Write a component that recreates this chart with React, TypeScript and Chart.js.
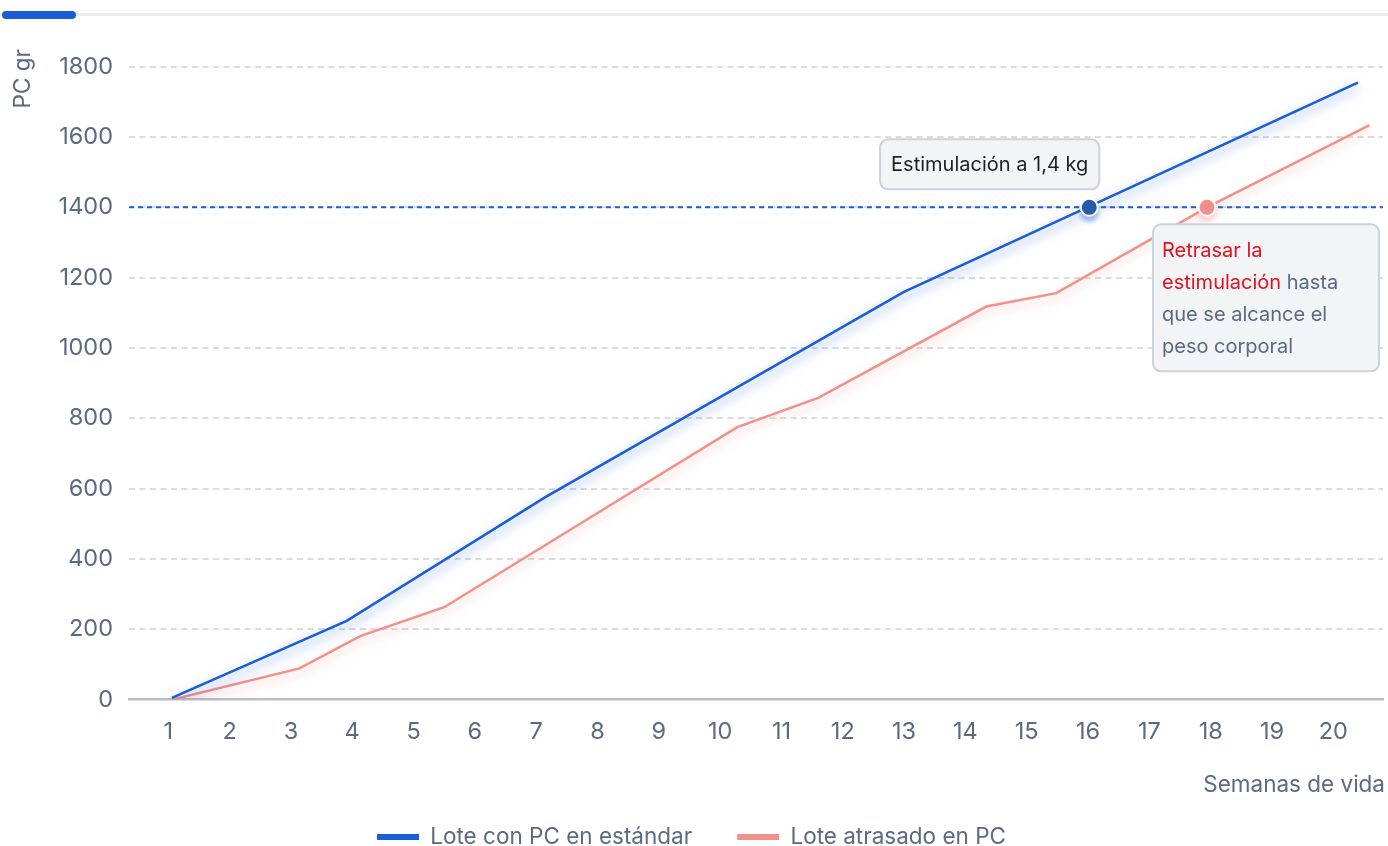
import React, { useEffect, useRef } from "react";
import { Chart, registerables } from "chart.js";

Chart.register(...registerables);

// ---------- data ----------
const WEEK_TICKS = [1, 2, 3, 4, 5, 6, 7, 8, 9, 10, 11, 12, 13, 14, 15, 16, 17, 18, 19, 20];
const WEIGHT_TICKS = [0, 200, 400, 600, 800, 1000, 1200, 1400, 1600, 1800];
const X_RANGE = [0.36, 20.81];
const Y_RANGE = [0, 1800];

const STD_WEEKS = [1.06, 3.91, 7.15, 12.99, 20.4];
const STD_WEIGHT = [5, 224, 576, 1159, 1755];

const LATE_WEEKS = [1.06, 3.14, 4.13, 5.5, 10.28, 11.6, 14.34, 15.48, 17.94, 20.59];
const LATE_WEIGHT = [0, 89, 181, 263, 775, 858, 1118, 1156, 1400, 1634];

const TARGET_WEIGHT = 1400;
const STD_HIT_WEEK = 16.02;
const LATE_HIT_WEEK = 17.94;

const SERIES_NAMES = ["Lote con PC en estándar", "Lote atrasado en PC"];
const Y_TITLE = "PC gr";
const X_TITLE = "Semanas de vida";
const NOTE_STD = "Estimulación a 1,4 kg";
const NOTE_LATE: { t: string; red: boolean }[][] = [
  [{ t: "Retrasar la", red: true }],
  [
    { t: "estimulación", red: true },
    { t: " hasta", red: false },
  ],
  [{ t: "que se alcance el", red: false }],
  [{ t: "peso corporal", red: false }],
];

// ---------- style ----------
const FONT = "Inter";
const BLUE = "#1b5dd6";
const RED = "#f1918b";
const SLATE = "#5b6a80";
const NOTE_RED = "#e0121f";
const LABEL_SIZE = 22.5;
const TICK_SIZE = 23.5;
const NOTE_SIZE = 20;

function roundRect(ctx: CanvasRenderingContext2D, x: number, y: number, w: number, h: number, r: number) {
  ctx.beginPath();
  ctx.moveTo(x + r, y);
  ctx.lineTo(x + w - r, y);
  ctx.arcTo(x + w, y, x + w, y + r, r);
  ctx.lineTo(x + w, y + h - r);
  ctx.arcTo(x + w, y + h, x + w - r, y + h, r);
  ctx.lineTo(x + r, y + h);
  ctx.arcTo(x, y + h, x, y + h - r, r);
  ctx.lineTo(x, y + r);
  ctx.arcTo(x, y, x + r, y, r);
  ctx.closePath();
}

const glowPlugin = {
  id: "glow",
  beforeDatasetDraw(chart: any, args: any) {
    const ds = chart.data.datasets[args.index];
    if (!ds.glow) return;
    const ctx = chart.ctx;
    ctx.save();
    ctx.shadowColor = ds.glow;
    ctx.shadowBlur = ds.glowBlur || 12;
    ctx.shadowOffsetY = 5;
  },
  afterDatasetDraw(chart: any, args: any) {
    const ds = chart.data.datasets[args.index];
    if (!ds.glow) return;
    chart.ctx.restore();
  },
};

const notesPlugin = {
  id: "notes",
  afterDraw(chart: any) {
    const ctx: CanvasRenderingContext2D = chart.ctx;
    const xs = chart.scales.x;
    const ys = chart.scales.y;
    const area = chart.chartArea;
    ctx.save();

    // axis titles
    ctx.fillStyle = SLATE;
    ctx.font = `${LABEL_SIZE}px ${FONT}`;
    ctx.textBaseline = "middle";
    ctx.textAlign = "center";
    ctx.save();
    ctx.translate(area.left - 106, area.top + 12);
    ctx.rotate(-Math.PI / 2);
    ctx.fillText(Y_TITLE, 0, 0);
    ctx.restore();

    ctx.textAlign = "right";
    ctx.fillText(X_TITLE, area.right + 2, area.bottom + 86);

    // note for standard batch
    const bx = xs.getPixelForValue(STD_HIT_WEEK);
    const by = ys.getPixelForValue(TARGET_WEIGHT);
    ctx.font = `${NOTE_SIZE}px ${FONT}`;
    const tw = ctx.measureText(NOTE_STD).width;
    const w1 = tw + 22;
    const h1 = 50;
    const x1 = bx + 10 - w1;
    const y1 = by - 18 - h1;
    roundRect(ctx, x1, y1, w1, h1, 8);
    ctx.fillStyle = "#f3f4f5";
    ctx.fill();
    ctx.lineWidth = 2;
    ctx.strokeStyle = "#c9d2dd";
    ctx.stroke();
    ctx.fillStyle = "#1e1f22";
    ctx.textAlign = "left";
    ctx.textBaseline = "middle";
    ctx.fillText(NOTE_STD, x1 + 11, y1 + h1 / 2 + 1);

    // note for late batch
    const rx = xs.getPixelForValue(LATE_HIT_WEEK);
    const ry = ys.getPixelForValue(TARGET_WEIGHT);
    const x2 = rx - 54;
    const y2 = ry + 17;
    const w2 = 226;
    const h2 = 147;
    roundRect(ctx, x2, y2, w2, h2, 8);
    ctx.fillStyle = "#f3f4f5";
    ctx.fill();
    ctx.lineWidth = 2;
    ctx.strokeStyle = "#c9d2dd";
    ctx.stroke();
    NOTE_LATE.forEach((line, i) => {
      let cx = x2 + 9;
      const cy = y2 + 27 + i * 32;
      line.forEach((seg) => {
        ctx.fillStyle = seg.red ? NOTE_RED : SLATE;
        ctx.fillText(seg.t, cx, cy);
        cx += ctx.measureText(seg.t).width;
      });
    });
    ctx.restore();
  },
};

export default function App() {
  const canvasRef = useRef<HTMLCanvasElement | null>(null);

  useEffect(() => {
    document.body.style.margin = "0";
    const canvas = canvasRef.current;
    if (!canvas) return;

    const chart = new Chart(canvas, {
      type: "line",
      data: {
        datasets: [
          {
            label: "std-dot",
            data: [{ x: STD_HIT_WEEK, y: TARGET_WEIGHT }],
            showLine: false,
            pointRadius: 8.5,
            pointBorderWidth: 2,
            pointBackgroundColor: "#2d5ba8",
            pointBorderColor: "#ffffff",
            hideLegend: true,
            glow: "rgba(27, 93, 214, 0.35)",
            glowBlur: 4,
          } as any,
          {
            label: "late-dot",
            data: [{ x: LATE_HIT_WEEK, y: TARGET_WEIGHT }],
            showLine: false,
            pointRadius: 8.5,
            pointBorderWidth: 2,
            pointBackgroundColor: "#f0908a",
            pointBorderColor: "#ffffff",
            hideLegend: true,
            glow: "rgba(241, 145, 139, 0.3)",
            glowBlur: 4,
          } as any,
          {
            label: SERIES_NAMES[0],
            data: STD_WEEKS.map((x, i) => ({ x, y: STD_WEIGHT[i] })),
            borderColor: BLUE,
            backgroundColor: BLUE,
            borderWidth: 2.5,
            pointRadius: 0,
            tension: 0,
            glow: "rgba(27, 93, 214, 0.6)",
            glowBlur: 12,
          } as any,
          {
            label: SERIES_NAMES[1],
            data: LATE_WEEKS.map((x, i) => ({ x, y: LATE_WEIGHT[i] })),
            borderColor: RED,
            backgroundColor: RED,
            borderWidth: 2.5,
            pointRadius: 0,
            tension: 0,
            glow: "rgba(241, 145, 139, 0.5)",
            glowBlur: 10,
          } as any,
          {
            label: "target",
            data: [
              { x: X_RANGE[0], y: TARGET_WEIGHT },
              { x: X_RANGE[1], y: TARGET_WEIGHT },
            ],
            borderColor: BLUE,
            borderWidth: 2,
            borderDash: [5, 4],
            pointRadius: 0,
            hideLegend: true,
          } as any,
        ],
      },
      options: {
        animation: false,
        responsive: false,
        events: [],
        layout: { autoPadding: false, padding: { top: 66.7, left: 0, right: 5, bottom: 11.75 } },
        font: { family: FONT },
        scales: {
          x: {
            type: "linear",
            min: X_RANGE[0],
            max: X_RANGE[1],
            afterBuildTicks: (s: any) => {
              s.ticks = WEEK_TICKS.map((v) => ({ value: v }));
            },
            afterFit: (s: any) => {
              s.height = 81.05;
              s.paddingLeft = 0;
              s.paddingRight = 0;
            },
            grid: { display: false, drawTicks: false },
            border: { display: true, color: "#bdbdc1", width: 2.5 },
            ticks: {
              color: SLATE,
              font: { family: FONT, size: TICK_SIZE },
              padding: 18,
              maxRotation: 0,
              autoSkip: false,
              callback: (v: any) => String(v),
            },
          },
          y: {
            type: "linear",
            min: Y_RANGE[0],
            max: Y_RANGE[1],
            afterBuildTicks: (s: any) => {
              s.ticks = WEIGHT_TICKS.map((v) => ({ value: v }));
            },
            afterFit: (s: any) => {
              s.width = 129;
              s.paddingTop = 0;
              s.paddingBottom = 0;
            },
            grid: {
              drawTicks: false,
              lineWidth: 2,
              color: (c: any) => (c.tick && c.tick.value === 0 ? "rgba(0,0,0,0)" : "#dcdcdc"),
            },
            border: { display: false, dash: [6, 4.5] },
            ticks: {
              color: SLATE,
              font: { family: FONT, size: TICK_SIZE },
              padding: 16,
              callback: (v: any) => String(v),
            },
          },
        },
        plugins: {
          tooltip: { enabled: false },
          legend: {
            position: "bottom",
            labels: {
              color: SLATE,
              font: { family: FONT, size: LABEL_SIZE },
              boxWidth: 42,
              boxHeight: 6,
              padding: 45,
              filter: (item: any, data: any) => !data.datasets[item.datasetIndex].hideLegend,
              generateLabels: (ch: any) =>
                Chart.defaults.plugins.legend.labels.generateLabels(ch).map((it: any) => ({
                  ...it,
                  lineWidth: 0,
                  lineDash: [],
                })),
            },
          },
        },
      } as any,
      plugins: [glowPlugin, notesPlugin],
    });

    return () => chart.destroy();
  }, []);

  return (
    <div
      style={{
        position: "fixed",
        left: 0,
        top: 0,
        width: 1388,
        height: 846,
        overflow: "hidden",
        background: "#ffffff",
      }}
    >
      <canvas ref={canvasRef} width={1388} height={870} style={{ display: "block" }} />
      <div
        style={{
          position: "absolute",
          left: 0,
          top: 13,
          width: 1388,
          height: 3,
          background: "#e8ebef",
        }}
      />
      <div
        style={{
          position: "absolute",
          left: 2,
          top: 10.5,
          width: 74,
          height: 8,
          borderRadius: 4,
          background: BLUE,
        }}
      />
    </div>
  );
}
